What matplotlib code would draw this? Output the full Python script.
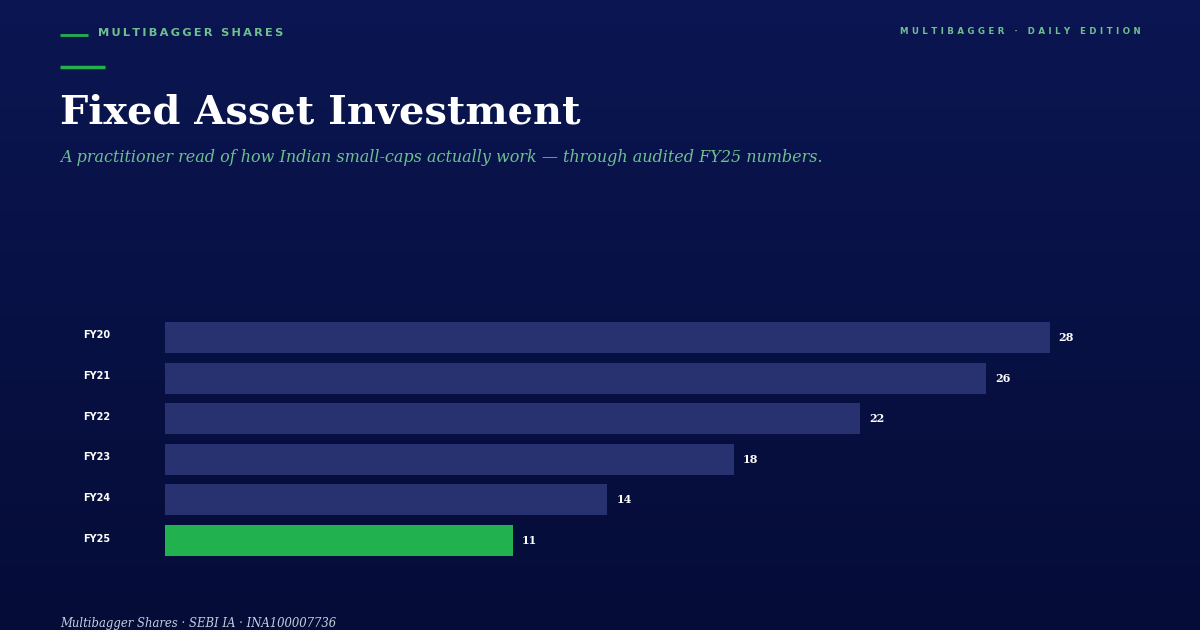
import numpy as np
import matplotlib
matplotlib.use("Agg")
import matplotlib.pyplot as plt
from matplotlib.colors import LinearSegmentedColormap

years = ["FY20", "FY21", "FY22", "FY23", "FY24", "FY25"]
values = [28, 26, 22, 18, 14, 11]
highlight = "FY25"

BAR = "#283270"
GREEN = "#22b14f"
MINT = "#6fc08f"
BG_TOP = "#0b1652"
BG_BOT = "#050c37"

W, H = 1200, 630
fig = plt.figure(figsize=(W / 100, H / 100), dpi=100)

# background gradient
bg = fig.add_axes([0, 0, 1, 1], zorder=-10)
cmap = LinearSegmentedColormap.from_list("bg", [BG_TOP, BG_BOT])
bg.imshow(np.linspace(0, 1, 256)[:, None], aspect="auto", cmap=cmap,
          extent=[0, 1, 0, 1])
bg.set_xlim(0, 1)
bg.set_ylim(0, 1)
bg.axis("off")


def px(x, y):
    return x / W, 1 - y / H


def spaced(s, sep="\u2009"):
    return sep.join(s)


# header
bg.plot([60 / W, 88 / W], [1 - 35 / H] * 2, color=GREEN, lw=2, solid_capstyle="butt")
fig.text(*px(98, 33), spaced("MULTIBAGGER SHARES"), color=MINT, fontsize=8.2,
         fontweight="bold", family="DejaVu Sans", va="center", ha="left")
fig.text(*px(1141, 31), spaced("MULTIBAGGER · DAILY EDITION", "\u2009\u2009"),
         color=MINT, fontsize=6.2, fontweight="bold", family="DejaVu Sans",
         va="center", ha="right")
bg.plot([60 / W, 105 / W], [1 - 67 / H] * 2, color=GREEN, lw=2.5, solid_capstyle="butt")

fig.text(*px(60, 124), "Fixed Asset Investment", color="white", fontsize=28.7,
         fontweight="bold", family="DejaVu Serif", va="baseline", ha="left")
fig.text(*px(60, 162), "A practitioner read of how Indian small-caps actually work \u2014 "
         "through audited FY25 numbers.", color=MINT, fontsize=11.55,
         style="italic", family="DejaVu Serif", va="baseline", ha="left")
fig.text(*px(60, 627), "Multibagger Shares · SEBI IA · INA100007736", color="#c9cde0",
         fontsize=8.4, style="italic", family="DejaVu Serif", va="baseline", ha="left")

# bars
ax = fig.add_axes([165 / W, (H - 564.9) / H, (1138 - 165) / W, 251.8 / H])
ax.set_facecolor("none")
pos = np.arange(len(years))
colors = [GREEN if y == highlight else BAR for y in years]
ax.barh(pos, values, height=0.76, color=colors)
ax.set_xlim(0, 30.8)
ax.set_ylim(5.6, -0.6)
ax.axis("off")
for p, v, y in zip(pos, values, years):
    ax.annotate(str(v), (v, p), xytext=(9, 0), textcoords="offset pixels",
                color="white", fontsize=8, fontweight="bold", family="DejaVu Serif",
                va="center", ha="left")
    ax.annotate(y, (0, p), xytext=(-82, 2), textcoords="offset pixels",
                xycoords=("axes fraction", "data"),
                color="white", fontsize=7, fontweight="bold", family="DejaVu Sans",
                va="center", ha="left")

fig.savefig("out.png", dpi=100)
